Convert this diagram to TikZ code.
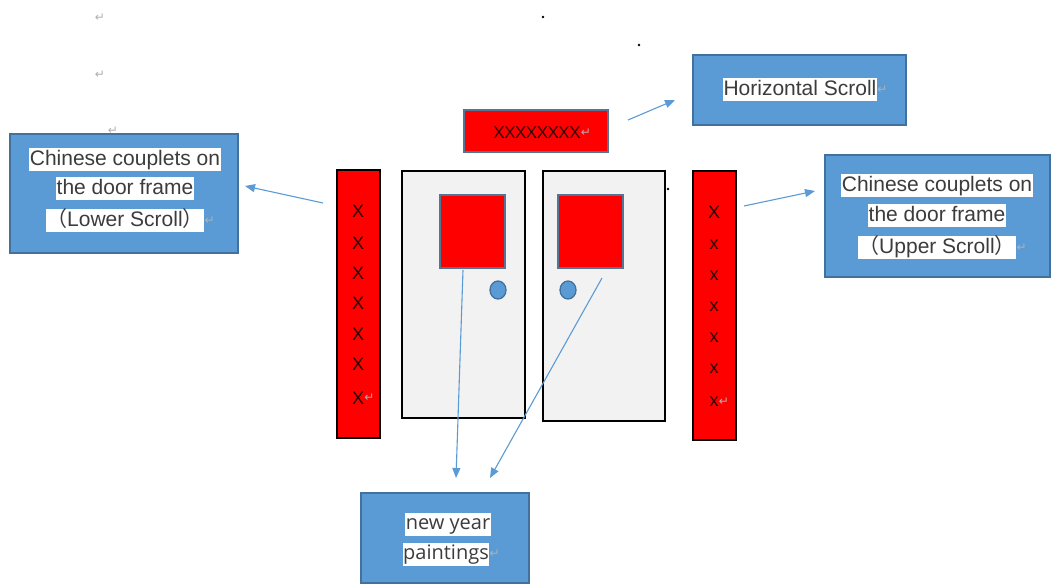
\documentclass[tikz,border=0pt]{standalone}
\usepackage{fontspec}
\setmainfont{Liberation Sans}
\newfontfamily\cjk{Noto Sans CJK SC}
\newfontfamily\osans{Open Sans}
\newfontfamily\dvs{DejaVu Sans}
\usetikzlibrary{arrows.meta,shapes.geometric}
\definecolor{obl}{HTML}{5B9BD5}
\definecolor{obd}{HTML}{41719C}
\definecolor{txt}{HTML}{3C3C3C}
\definecolor{pm}{HTML}{B0B0B0}
\newcommand{\pmark}{{\dvs\color{pm}\fontsize{12}{12}\selectfont ↵}}
\tikzset{
  bluebox/.style={draw=obd, line width=1.5pt, fill=obl, minimum width=#1, inner sep=0pt},
  hl/.style={fill=white, text=txt, inner xsep=0.5pt, inner ysep=1pt, font=\fontsize{21}{21}\selectfont, text height=16pt, text depth=5pt},
  redstrip/.style={draw=black, line width=1.5pt, fill=red, minimum width=43pt, inner sep=0pt},
  door/.style={draw=black, line width=1.8pt, fill={rgb,255:red,242;green,242;blue,242}, inner sep=0pt},
  redsq/.style={draw=obd!70!gray, line width=1.4pt, fill=red, minimum width=65pt, minimum height=73pt, inner sep=0pt},
  knob/.style={ellipse, draw=obd, line width=1.3pt, fill=obl, minimum width=16pt, minimum height=18pt, inner sep=0pt},
  xmark/.style={font=\fontsize{18}{18}\selectfont, text=black!85!red, inner sep=0pt},
  conn/.style={draw=obl, line width=1.1pt, -{Triangle[length=10pt,width=8pt]}},
  dot/.style={circle, fill=black, minimum size=2.8pt, inner sep=0pt}
}
\begin{document}
\begin{tikzpicture}[x=1pt,y=-1pt]
\useasboundingbox[fill=white] (0,0) rectangle (1052,585);

% stray paragraph marks and dots
\node (pm1) at (100,18) {\pmark};
\node (pm2) at (100,75) {\pmark};
\node (pm3) at (113,131) {\pmark};
\node[dot] (d1) at (543,17) {};
\node[dot] (d2) at (639,45) {};
\node[dot] (d3) at (668,189) {};

% blue label boxes
\node[bluebox=228pt, minimum height=119pt] (lbox) at (124,193.5) {};
\node[hl] (l1) at (125,160) {Chinese couplets on};
\node[hl] (l2) at (125,189) {the door frame};
\node[hl] (l3) at (125,221) {\cjk（\rmfamily Lower Scroll\cjk）};
\node[anchor=west, inner sep=0pt] (l3p) at (l3.east) {\pmark};

\node[bluebox=213pt, minimum height=70pt] (hbox) at (799.5,90) {};
\node[hl] (h1) at (800,90) {Horizontal Scroll};
\node[anchor=west, inner sep=0pt] (h1p) at (h1.east) {\pmark};

\node[bluebox=225pt, minimum height=122pt] (rbox) at (937.5,216) {};
\node[hl] (r1) at (937,186) {Chinese couplets on};
\node[hl] (r2) at (937,216) {the door frame};
\node[hl] (r3) at (937,248) {\cjk（\rmfamily Upper Scroll\cjk）};
\node[anchor=west, inner sep=0pt] (r3p) at (r3.east) {\pmark};

\node[bluebox=168pt, minimum height=90pt] (bbox) at (445,538) {};
\node[hl, font=\osans\fontsize{20}{20}\selectfont] (b1) at (448,524) {new year};
\node[hl, font=\osans\fontsize{20}{20}\selectfont] (b2) at (446,554) {paintings};
\node[anchor=west, inner sep=0pt] (b2p) at (b2.east) {\pmark};

% horizontal scroll (red)
\node[draw=obd!70!gray, line width=1.4pt, fill=red, minimum width=144pt, minimum height=42pt, inner sep=0pt] (top) at (536,131) {};
\node[font=\fontsize{17}{17}\selectfont, text=black!80!red, inner sep=0pt] (topx) at (537,133) {\addfontfeature{LetterSpace=-3}XXXXXXXX};
\node[anchor=west, inner sep=0pt] (topp) at (topx.east) {\pmark};

% couplet strips
\node[redstrip, minimum height=268pt] (ls) at (358.5,304) {};
\node[redstrip, minimum height=269pt] (rs) at (714.5,305.5) {};
\foreach \y [count=\i] in {211,243,273,303,334,364,398} {
  \node[xmark] (lx\i) at (358,\y) {X};
}
\node[anchor=west, inner sep=0pt] (lxp) at (lx7.east) {\pmark};
\node[xmark] (rx1) at (714,212) {X};
\foreach \y [count=\i from 2] in {245,276,307,338,369,402} {
  \node[xmark] (rx\i) at (714,\y) {x};
}
\node[anchor=west, inner sep=0pt] (rxp) at (rx7.east) {\pmark};

% doors
\node[door, minimum width=123pt, minimum height=247pt] (ldoor) at (463.5,294.5) {};
\node[door, minimum width=122pt, minimum height=250pt] (rdoor) at (604,296) {};
\node[redsq] (lsq) at (472.5,231.5) {};
\node[redsq] (rsq) at (590.5,231.5) {};
\node[knob] (lk) at (498,290) {};
\node[knob] (rk) at (568,290) {};

% connectors
\coordinate (la0) at (323,203);
\coordinate (la1) at (245,186);
\coordinate (ha0) at (628,120);
\coordinate (ha1) at (675,100);
\coordinate (ra0) at (744,206);
\coordinate (ra1) at (815,191);
\coordinate (ba0) at (463,270);
\coordinate (ba1) at (456,478);
\coordinate (bb0) at (602,278);
\coordinate (bb1) at (490,478);
\draw[conn] (la0) -- (la1);
\draw[conn] (ha0) -- (ha1);
\draw[conn] (ra0) -- (ra1);
\draw[conn] (ba0) -- (ba1);
\draw[conn] (bb0) -- (bb1);
\end{tikzpicture}
\end{document}
